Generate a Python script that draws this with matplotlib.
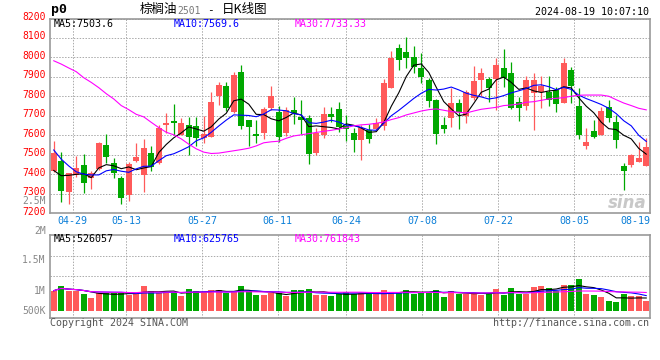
import matplotlib
matplotlib.use("Agg")
import matplotlib.pyplot as plt
import matplotlib.transforms as mtransforms
import numpy as np
import pandas as pd

# ---- candles, one per trading day 04-24 .. 08-19 ----
opens = [7418, 7466, 7311, 7396, 7449, 7383, 7425, 7550, 7456, 7383,
         7294, 7470, 7396, 7508, 7459, 7655, 7673, 7603, 7651, 7649,
         7586, 7594, 7804, 7852, 7722, 7927, 7681, 7606, 7611, 7743,
         7722, 7611, 7729, 7695, 7688, 7509, 7600, 7709, 7733, 7647,
         7612, 7577, 7628, 7632, 7650, 7845, 8046, 8026, 8000, 7947,
         7883, 7780, 7654, 7688, 7765, 7702, 7791, 7884, 7888, 7888,
         7947, 7918, 7770, 7753, 7820, 7825, 7821, 7833, 7765, 7935,
         7753, 7546, 7620, 7603, 7748, 7671, 7441, 7449, 7463, 7444]
highs = [7570, 7514, 7405, 7494, 7504, 7415, 7566, 7605, 7482, 7390,
         7465, 7562, 7581, 7545, 7655, 7714, 7760, 7691, 7695, 7695,
         7700, 7825, 7876, 7876, 7927, 7961, 7681, 7680, 7748, 7854,
         7753, 7746, 7799, 7782, 7705, 7637, 7745, 7748, 7772, 7705,
         7637, 7654, 7657, 7691, 7888, 8034, 8069, 8106, 8060, 8021,
         7893, 7785, 7695, 7845, 7785, 7833, 7956, 7947, 7901, 7995,
         8041, 7978, 7797, 7906, 7918, 7906, 7906, 7850, 7999, 7953,
         7842, 7637, 7680, 7748, 7782, 7705, 7458, 7504, 7565, 7586]
lows = [7410, 7258, 7246, 7388, 7304, 7325, 7422, 7460, 7383, 7246,
        7263, 7465, 7311, 7418, 7455, 7612, 7600, 7600, 7500, 7543,
        7562, 7594, 7756, 7726, 7714, 7632, 7543, 7560, 7582, 7731,
        7565, 7596, 7657, 7606, 7454, 7500, 7589, 7668, 7619, 7572,
        7514, 7474, 7560, 7628, 7628, 7842, 7935, 7947, 7918, 7867,
        7748, 7555, 7611, 7645, 7632, 7662, 7782, 7804, 7773, 7731,
        7850, 7736, 7674, 7731, 7627, 7739, 7753, 7722, 7765, 7765,
        7582, 7531, 7586, 7600, 7668, 7534, 7321, 7436, 7463, 7441]
closes = [7508, 7313, 7405, 7434, 7355, 7408, 7562, 7490, 7405, 7280,
          7453, 7490, 7536, 7440, 7639, 7662, 7661, 7661, 7594, 7586,
          7606, 7773, 7859, 7743, 7908, 7647, 7644, 7598, 7736, 7801,
          7594, 7731, 7714, 7681, 7505, 7613, 7709, 7695, 7644, 7634,
          7577, 7640, 7582, 7662, 7867, 7995, 7987, 7999, 7953, 7900,
          7777, 7606, 7632, 7765, 7722, 7823, 7879, 7918, 7845, 7961,
          7893, 7743, 7739, 7883, 7884, 7852, 7782, 7760, 7970, 7854,
          7600, 7565, 7592, 7727, 7688, 7577, 7418, 7500, 7483, 7540]
volumes = [828000, 1020000, 828000, 815000, 691000, 538000, 720000, 720000, 720000, 745000,
           638000, 720000, 1020000, 815000, 720000, 745000, 762000, 609000, 898000, 815000,
           745000, 857000, 857000, 720000, 815000, 1020000, 815000, 650000, 650000, 720000,
           720000, 609000, 857000, 857000, 898000, 650000, 650000, 609000, 691000, 787000,
           691000, 720000, 691000, 691000, 857000, 787000, 720000, 857000, 691000, 787000,
           787000, 857000, 580000, 815000, 691000, 691000, 745000, 650000, 745000, 898000,
           650000, 952000, 691000, 691000, 994000, 1035000, 952000, 815000, 1063000, 1063000,
           1312000, 691000, 650000, 553000, 414000, 350000, 691000, 595000, 595000, 400000]

# moving averages whose history starts before the first visible day
ma5_head = [7420, 7393, 7395, 7400]
ma10_head = [7525, 7478, 7443, 7413, 7401, 7397, 7397, 7418, 7425]
ma30 = [7983, 7966, 7946, 7927, 7896, 7872, 7845, 7814, 7787, 7753,
        7732, 7708, 7695, 7667, 7640, 7616, 7603, 7582, 7555, 7531,
        7514, 7507, 7509, 7515, 7521, 7527, 7534, 7546, 7562, 7567,
        7570, 7585, 7597, 7603, 7609, 7615, 7621, 7626, 7633, 7640,
        7649, 7654, 7657, 7662, 7669, 7681, 7691, 7705, 7715, 7725,
        7732, 7736, 7729, 7722, 7719, 7715, 7725, 7734, 7739, 7744,
        7753, 7756, 7761, 7770, 7773, 7780, 7787, 7790, 7794, 7801,
        7806, 7807, 7807, 7807, 7801, 7783, 7766, 7753, 7739, 7731]

date_labels = ["04-29", "05-13", "05-27", "06-11", "06-24", "07-08", "07-22", "08-05", "08-19"]
date_index = [3, 10, 20, 30, 39, 49, 59, 69, 79]

price_ma_text = ["MA5:7503.6", "MA10:7569.6", "MA30:7733.33"]
vol_ma_text = ["MA5:526057", "MA10:625765", "MA30:761843"]
vol_tick_labels = ["2.5M", "2M", "1.5M", "1M", "500K"]

RED = "#ff5a5a"
GREEN = "#00a800"
GRID = "#aaaaaa"
FRAME = "#999999"
DATE_BLUE = "#0b7fd8"
MA_COLORS = ["black", "#0000ff", "#ff00ff"]

plt.rcParams["font.family"] = ["DejaVu Sans Mono"]

W, H = 660, 360
fig = plt.figure(figsize=(W / 100, H / 100), dpi=100)
fig.patch.set_facecolor("white")


def px_axes(left, top, right, bottom):
    return fig.add_axes([left / W, 1 - bottom / H, (right - left) / W, (bottom - top) / H])


n = len(closes)
x = np.arange(n)
up = np.array(closes) >= np.array(opens)
colors = [RED if u else GREEN for u in up]

c = pd.Series(closes, dtype=float)
ma5 = c.rolling(5).mean().to_numpy()
ma5[:len(ma5_head)] = ma5_head
ma10 = c.rolling(10).mean().to_numpy()
ma10[:len(ma10_head)] = ma10_head

# sina spaces its date grid by width/(n-1) instead of width/n
grid_x = [d * n / (n - 1) - 0.5 for d in date_index]

# ---------------- price panel ----------------
ax = px_axes(50, 18.5, 650, 213.3)
ax.set_xlim(-0.5, n - 0.5)
ax.set_ylim(7200, 8200)
ax.set_yticks(range(7200, 8201, 100))
ax.set_xticks([])
ax.yaxis.grid(True, color=GRID, linestyle=(0, (1.5, 1.5)), lw=0.7)
for gx in grid_x[:-1]:
    ax.axvline(gx, color=GRID, linestyle=(0, (1.5, 1.5)), lw=0.7, zorder=0)
ax.tick_params(axis="y", length=0, pad=3, labelsize=7, labelcolor="red")
shift = mtransforms.ScaledTranslation(0, 2.5 / 100, fig.dpi_scale_trans)
for lab in ax.get_yticklabels():
    lab.set_transform(lab.get_transform() + shift)
for s in ax.spines.values():
    s.set_color(FRAME)
    s.set_linewidth(1.2)

ax.vlines(x, lows, highs, colors=colors, lw=0.9, zorder=2)
bottoms = np.minimum(opens, closes)
heights = np.maximum(np.abs(np.array(closes) - np.array(opens)), 3)
ax.bar(x, heights, bottom=bottoms, width=0.8, color=colors, zorder=3)

for vals, col in zip([ma5, ma10, ma30], MA_COLORS):
    ax.plot(x, vals, color=col, lw=0.8, zorder=4)

for gx, lab in zip(grid_x, date_labels):
    ha = "center"
    if gx > n - 2:
        gx, ha = n - 0.5, "right"
    ax.text(gx, -0.04, lab, transform=ax.get_xaxis_transform(), ha=ha, va="center",
            fontsize=7.2, color=DATE_BLUE)

for xp, txt, col in zip([54, 174, 295], price_ma_text, MA_COLORS):
    fig.text(xp / W, 1 - 24 / H, txt, fontsize=7.2, color=col, va="center")

ax.text(0.995, 0.055, "sina", transform=ax.transAxes, ha="right", va="center",
        fontsize=12, fontweight="bold", style="italic", color="#c8c8c8",
        family="DejaVu Sans", zorder=1)

# ---------------- volume panel ----------------
av = px_axes(50, 234.7, 650, 318)
av.set_xlim(-0.5, n - 0.5)
av.set_ylim(-302000, 3146000)
av.set_xticks([])
av.set_yticks([])
for fy in [0.5, 0.75]:
    av.axhline(av.get_ylim()[0] + fy * (av.get_ylim()[1] - av.get_ylim()[0]),
               color=GRID, linestyle=(0, (1.5, 1.5)), lw=0.7, zorder=0)
for gx in grid_x[:-1]:
    av.axvline(gx, color=GRID, linestyle=(0, (1.5, 1.5)), lw=0.7, zorder=0)
for s in av.spines.values():
    s.set_color(FRAME)
    s.set_linewidth(1.2)

av.bar(x, volumes, width=0.8, color=colors, zorder=2)
v = pd.Series(volumes, dtype=float)
for win, col in zip([5, 10, 30], MA_COLORS):
    av.plot(x, v.rolling(win, min_periods=1).mean(), color=col, lw=0.8, zorder=3)

for yp, lab in zip([1.408, 1.044, 0.696, 0.328, 0.088], vol_tick_labels):
    av.text(-0.007, yp, lab, transform=av.transAxes, ha="right", va="center",
            fontsize=7, color="#888888", clip_on=False)

for xp, txt, col in zip([54, 174, 295], vol_ma_text, MA_COLORS):
    fig.text(xp / W, 1 - 238.5 / H, txt, fontsize=7.2, color=col, va="center")

# ---------------- header / footer ----------------
fig.text(51 / W, 1 - 10 / H, "p0", fontsize=9.5, fontweight="bold", va="center")
cjk = ["Noto Sans CJK SC", "DejaVu Sans"]
fig.text(140 / W, 1 - 10 / H, "棕榈油", fontsize=9, family=cjk, va="center")
fig.text(177 / W, 1 - 10.5 / H, "2501", fontsize=7, color="#777777", va="center")
fig.text(207 / W, 1 - 10 / H, "-", fontsize=8, va="center")
fig.text(222 / W, 1 - 10 / H, "日K线图", fontsize=9, family=cjk, va="center")
fig.text(649 / W, 1 - 12 / H, "2024-08-19 10:07:10", fontsize=7.2, ha="right", va="center")
fig.text(50 / W, 1 - 323.5 / H, "Copyright 2024 SINA.COM", fontsize=7.2, color="#555555", va="center")
fig.text(649 / W, 1 - 323.5 / H, "http://finance.sina.com.cn", fontsize=7.2, color="#555555",
         ha="right", va="center")

fig.savefig("out.png", dpi=100, facecolor="white")
